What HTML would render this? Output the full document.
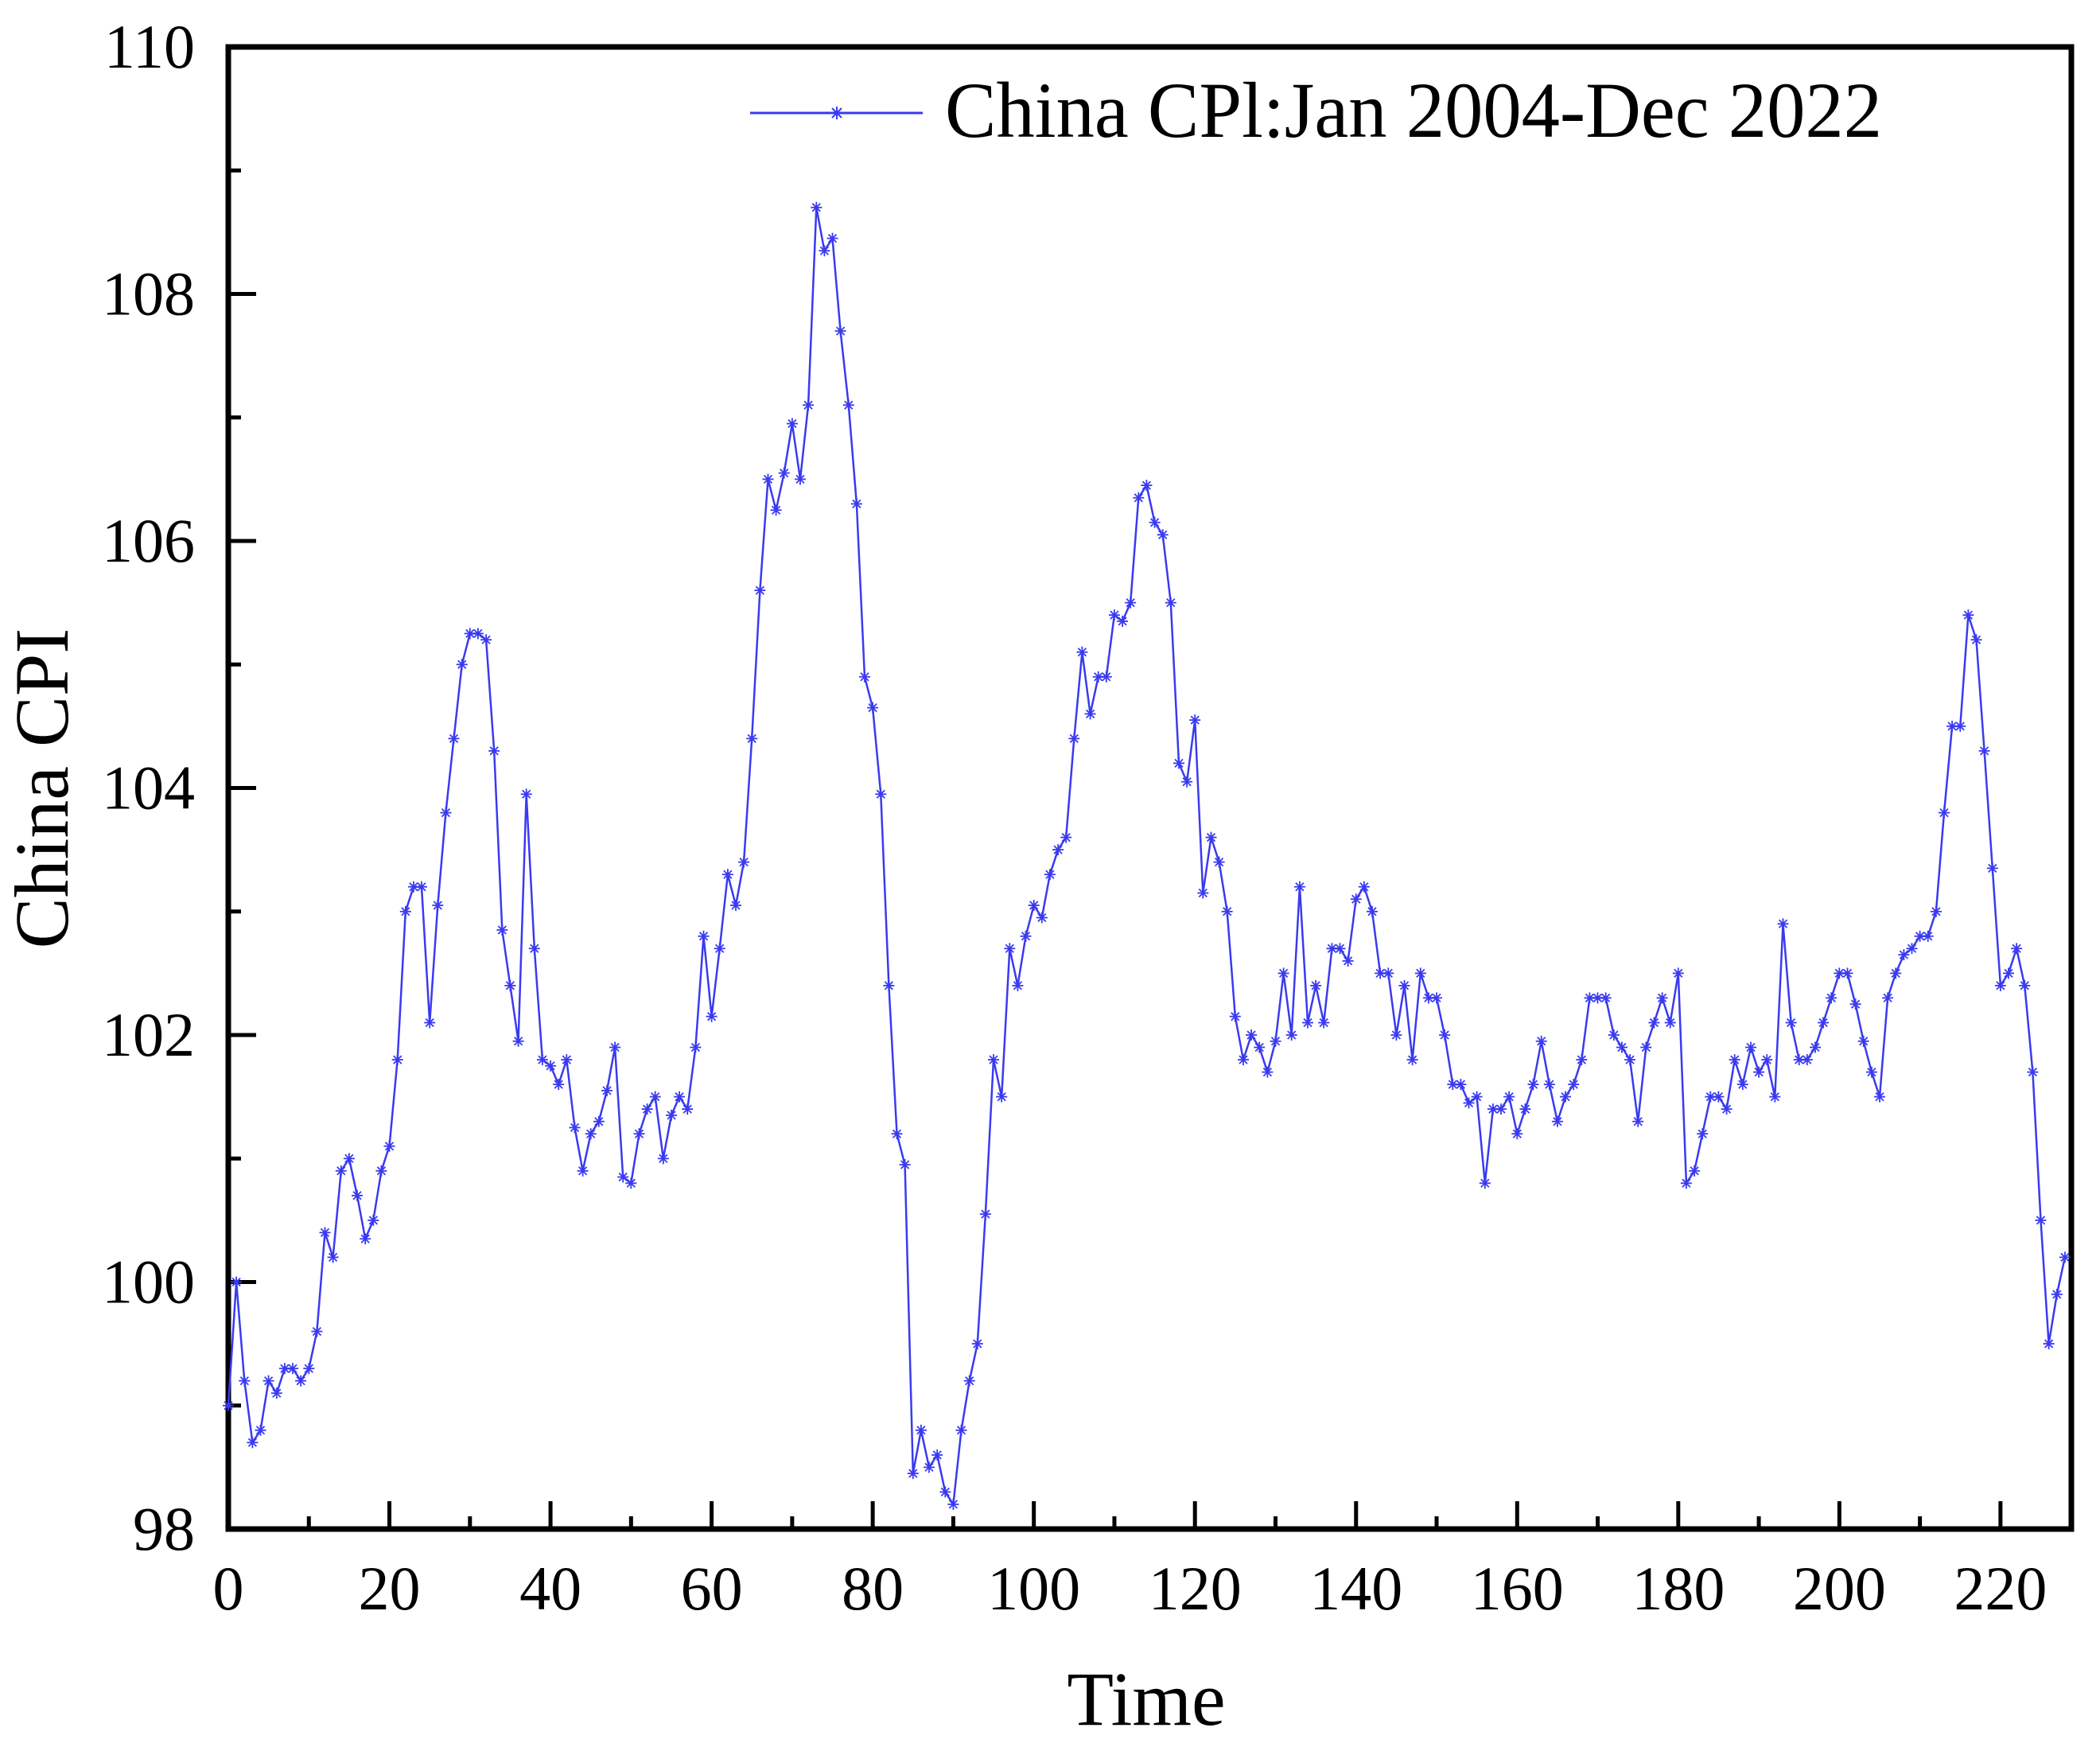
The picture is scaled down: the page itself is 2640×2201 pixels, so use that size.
<!DOCTYPE html>
<html><head><meta charset="utf-8"><style>
html,body{margin:0;padding:0;background:#fff}
svg{display:block}
text{font-family:"Liberation Serif",serif;fill:#000}
</style></head><body>
<svg id="chart" width="2640" height="2201" viewBox="0 0 2640 2201" xmlns="http://www.w3.org/2000/svg">
<g id="axes"></g>
<g id="series"></g>
<g id="legend">
  <line x1="943" y1="142" x2="1160" y2="142" stroke="#3a3af0" stroke-width="3"/>
  <g transform="translate(1052,142)" stroke="#3a3af0" stroke-width="2">
    <line x1="-8" y1="0" x2="8" y2="0"/><line x1="0" y1="-8" x2="0" y2="8"/><line x1="-6" y1="-6" x2="6" y2="6"/><line x1="-6" y1="6" x2="6" y2="-6"/>
  </g>
  <text x="1188" y="172" font-size="100" textLength="1178" lengthAdjust="spacingAndGlyphs">China CPl:Jan 2004-Dec 2022</text>
</g>
<text x="1441" y="2168" font-size="96" text-anchor="middle">Time</text>
<text transform="translate(85,991) rotate(-90)" font-size="96" text-anchor="middle">China CPI</text>
</svg>
<script>
const xTicks = [0,20,40,60,80,100,120,140,160,180,200,220];
const yTicks = [98,100,102,104,106,108,110];
const cpiValues = [
99.0,100.0,99.2,98.7,98.8,99.2,99.1,99.3,99.3,99.2,99.3,99.6,100.4,100.2,100.9,101.0,100.7,100.35,100.5,100.9,
101.1,101.8,103.0,103.2,103.2,102.1,103.05,103.8,104.4,105.0,105.25,105.25,105.2,104.3,102.85,102.4,101.95,103.95,102.7,101.8,
101.75,101.6,101.8,101.25,100.9,101.2,101.3,101.55,101.9,100.85,100.8,101.2,101.4,101.5,101.0,101.35,101.5,101.4,101.9,102.8,
102.15,102.7,103.3,103.05,103.4,104.4,105.6,106.5,106.25,106.55,106.95,106.5,107.1,108.7,108.35,108.45,107.7,107.1,106.3,104.9,
104.65,103.95,102.4,101.2,100.95,98.45,98.8,98.5,98.6,98.3,98.2,98.8,99.2,99.5,100.55,101.8,101.5,102.7,102.4,102.8,
103.05,102.95,103.3,103.5,103.6,104.4,105.1,104.6,104.9,104.9,105.4,105.35,105.5,106.35,106.45,106.15,106.05,105.5,104.2,104.05,
104.55,103.15,103.6,103.4,103.0,102.15,101.8,102.0,101.9,101.7,101.95,102.5,102.0,103.2,102.1,102.4,102.1,102.7,102.7,102.6,
103.1,103.2,103.0,102.5,102.5,102.0,102.4,101.8,102.5,102.3,102.3,102.0,101.6,101.6,101.45,101.5,100.8,101.4,101.4,101.5,
101.2,101.4,101.6,101.95,101.6,101.3,101.5,101.6,101.8,102.3,102.3,102.3,102.0,101.9,101.8,101.3,101.9,102.1,102.3,102.1,
102.5,100.8,100.9,101.2,101.5,101.5,101.4,101.8,101.6,101.9,101.7,101.8,101.5,102.9,102.1,101.8,101.8,101.9,102.1,102.3,
102.5,102.5,102.25,101.95,101.7,101.5,102.3,102.5,102.65,102.7,102.8,102.8,103.0,103.8,104.5,104.5,105.4,105.2,104.3,103.35,
102.4,102.5,102.7,102.4,101.7,100.5,99.5,99.9,100.2
];
const L=287,R=2604,T=59,B=1922;
const X0=0,X1=228.8,Y0=98,Y1=110;
function xs(v){return L+(v-X0)/(X1-X0)*(R-L);}
function ys(v){return B-(v-Y0)/(Y1-Y0)*(B-T);}
const NS="http://www.w3.org/2000/svg";
const axes=document.getElementById('axes');
function mk(tag,attrs,parent){const e=document.createElementNS(NS,tag);for(const k in attrs)e.setAttribute(k,attrs[k]);parent.appendChild(e);return e;}
// frame
const frame=mk('rect',{x:L,y:T,width:R-L,height:B-T,fill:'none',stroke:'#000','stroke-width':7},axes);


// x ticks
xTicks.forEach(function(t){
  const x=xs(t);
  const tk=mk('line',{x1:x,y1:B,x2:x,y2:B-35,stroke:'#000','stroke-width':5},axes);
  
  
  const lb=mk('text',{x:x,y:2023,'font-size':78,'text-anchor':'middle'},axes);
  lb.textContent=t;
  
  
  const m=t+10;
  if(m<X1){
    const mt=mk('line',{x1:xs(m),y1:B,x2:xs(m),y2:B-16,stroke:'#000','stroke-width':5},axes);
    
    
  }
});
// y ticks
yTicks.forEach(function(t){
  const y=ys(t);
  const tk=mk('line',{x1:L,y1:y,x2:L+35,y2:y,stroke:'#000','stroke-width':5},axes);
  
  
  const lb=mk('text',{x:245,y:y+26,'font-size':78,'text-anchor':'end'},axes);
  lb.textContent=t;
  
  
  if(t<Y1){
    const mt=mk('line',{x1:L,y1:ys(t+1),x2:L+16,y2:ys(t+1),stroke:'#000','stroke-width':5},axes);
    
    
  }
});
// series
const ser=document.getElementById('series');
const pts=cpiValues.map(function(v,i){return xs(i).toFixed(1)+','+ys(v).toFixed(1);}).join(' ');
const pl=mk('polyline',{points:pts,fill:'none',stroke:'#3a3af0','stroke-width':2.5,'stroke-linejoin':'round'},ser);


cpiValues.forEach(function(v,i){
  const g=mk('g',{transform:'translate('+xs(i).toFixed(1)+','+ys(v).toFixed(1)+')',stroke:'#3a3af0','stroke-width':1.8},ser);
  
  
  mk('line',{x1:-7,y1:0,x2:7,y2:0},g);
  mk('line',{x1:0,y1:-7,x2:0,y2:7},g);
  mk('line',{x1:-5,y1:-5,x2:5,y2:5},g);
  mk('line',{x1:-5,y1:5,x2:5,y2:-5},g);
});
</script>
</body></html>
